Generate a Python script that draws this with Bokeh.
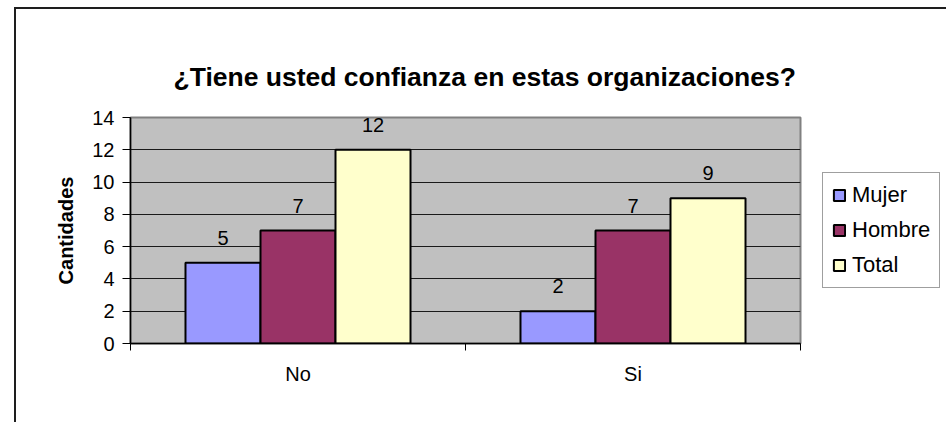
from bokeh.plotting import figure
from bokeh.models import (ColumnDataSource, FixedTicker, Legend, LegendItem, Range1d)
from bokeh.transform import dodge
from bokeh.core.properties import value
from bokeh.embed import file_html
from bokeh.resources import INLINE

categories = ["No", "Si"]
mujer = [5, 2]
hombre = [7, 7]
total = [12, 9]
series_names = ["Mujer", "Hombre", "Total"]
series_colors = ["#9999FF", "#993366", "#FFFFCC"]
y_ticks = [0, 2, 4, 6, 8, 10, 12, 14]

FONT = "Liberation Sans"

xpos = [i + 0.5 for i in range(len(categories))]
src = ColumnDataSource(dict(
    x=xpos, mujer=mujer, hombre=hombre, total=total,
    mujer_t=[str(v) for v in mujer], hombre_t=[str(v) for v in hombre],
    total_t=[str(v) for v in total],
))

p = figure(frame_width=670, frame_height=226, output_backend="svg", toolbar_location=None,
           x_range=Range1d(0, len(categories)), y_range=Range1d(0, 14),
           min_border_left=114, min_border_right=146, min_border_top=108,
           min_border_bottom=79, title="¿Tiene usted confianza en estas organizaciones?")
p.styles = {"margin-left": "14px", "margin-top": "7px",
            "border-left": "2px solid #1e1e1e", "border-top": "2px solid #1e1e1e"}

p.background_fill_color = "#C0C0C0"
p.border_fill_color = "white"
p.outline_line_color = "#808080"
p.outline_line_width = 2

p.title.text_font = FONT
p.title.text_font_size = "26.5px"
p.title.text_font_style = "bold"
p.title.text_color = "black"
p.title.align = "left"
p.title.offset = 43
p.title.standoff = 52

# grid
p.xgrid.visible = False
p.ygrid.ticker = FixedTicker(ticks=y_ticks)
p.ygrid.grid_line_color = "#1a1a1a"
p.ygrid.grid_line_width = 1

# y axis
ya = p.yaxis[0]
ya.ticker = FixedTicker(ticks=y_ticks)
ya.axis_line_color = "black"
ya.axis_line_width = 1.5
ya.major_tick_in = 0
ya.major_tick_out = 8
ya.minor_tick_out = 0
ya.minor_tick_in = 0
ya.major_label_standoff = 8
ya.major_label_text_font = FONT
ya.major_label_text_font_size = "20px"
ya.major_label_text_color = "black"
ya.axis_label = "Cantidades"
ya.axis_label_text_font = FONT
ya.axis_label_text_font_size = "20px"
ya.axis_label_text_font_style = "bold"
ya.axis_label_text_color = "black"
ya.axis_label_standoff = 12

# x axis
xa = p.xaxis[0]
xa.ticker = FixedTicker(ticks=xpos, minor_ticks=list(range(len(categories) + 1)))
xa.major_label_overrides = {x: c for x, c in zip(xpos, categories)}
xa.axis_line_color = "black"
xa.axis_line_width = 1.5
xa.major_tick_in = 0
xa.major_tick_out = 0
xa.minor_tick_in = 0
xa.minor_tick_out = 7
xa.minor_tick_line_color = "black"
xa.minor_tick_line_width = 1
xa.major_label_standoff = 12
xa.major_label_text_font = FONT
xa.major_label_text_font_size = "20px"
xa.major_label_text_color = "black"

bw = 0.2239
cols = ["mujer", "hombre", "total"]
offsets = [-bw, 0.0, bw]
renderers = []
for col, off, color in zip(cols, offsets, series_colors):
    r = p.vbar(x=dodge("x", off, range=p.x_range), top=col, width=bw, bottom=0,
               source=src, fill_color=color, line_color="black", line_width=2)
    renderers.append(r)
    p.text(x=dodge("x", off, range=p.x_range), y=col, text=col + "_t", source=src,
           text_align="center", text_baseline="middle", y_offset=-25,
           text_font=value(FONT), text_font_size="20px", text_color="black")

legend = Legend(items=[LegendItem(label=n, renderers=[r]) for n, r in zip(series_names, renderers)],
                location="center_left")
legend.label_text_font = FONT
legend.label_text_font_size = "22px"
legend.label_text_color = "black"
legend.glyph_width = 14
legend.glyph_height = 14
legend.label_standoff = 6
legend.spacing = 9
legend.padding = 9
legend.margin = 22
legend.border_line_color = "#404040"
legend.border_line_width = 1
legend.background_fill_color = "white"
legend.label_height = 22
p.add_layout(legend, "right")

open("out.html", "w").write(file_html(p, INLINE))
